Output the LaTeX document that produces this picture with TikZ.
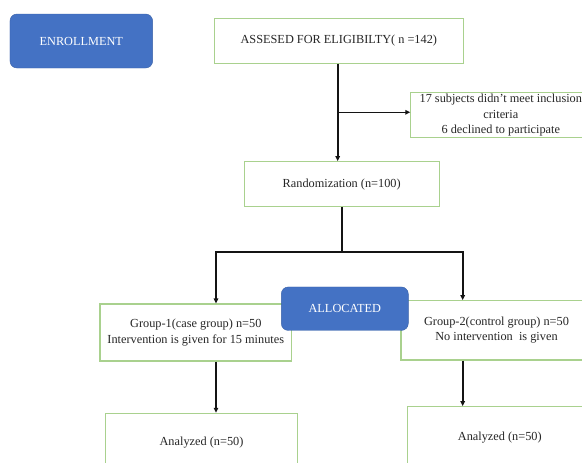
\documentclass[tikz,border=0pt]{standalone}
\usepackage{fontspec}
\setmainfont{Liberation Serif}
\usetikzlibrary{positioning,arrows.meta}

\definecolor{boxgreen}{HTML}{A9D18E}
\definecolor{boxblue}{HTML}{4472C4}
\definecolor{linegray}{HTML}{141414}

\tikzset{
	box/.style={draw=boxgreen, line width=1.1pt, fill=white, align=center, inner sep=0pt},
	stagebox/.style={fill=boxblue, draw=boxblue!85!black, line width=0.4pt, rounded corners=7pt, text=white, inner sep=0pt},
	arr/.style={-{Triangle[length=5pt,width=4.5pt]}, line width=1.6pt, draw=linegray},
	ln/.style={line width=1.6pt, draw=linegray}
}

\begin{document}
\begin{tikzpicture}[x=1pt, y=-1pt, font=\fontsize{12.3}{15.5}\selectfont, text=black!85]
%
\useasboundingbox (0,0) rectangle (582,463);
\clip (0,0) rectangle (582,463);

%Knoten
\node [stagebox, minimum width=142.7pt, minimum height=54pt] (enroll) at (81.3,41) {ENROLLMENT};

\node [box, minimum width=249pt, minimum height=45pt] (assess) at (338.8,40.8) {ASSESED FOR ELIGIBILTY( n =142)};
\node [box, minimum width=180pt, minimum height=45pt] (excl) at (500.8,115.3)
	{17 subjects didn't meet inclusion\\criteria\\6 declined to participate};
\node [box, minimum width=194.7pt, minimum height=45pt] (rand) at (341.7,184.2) {Randomization (n=100)};

\node [box, minimum width=191.7pt, minimum height=57pt] (group1) at (195.8,332.5)
	{Group-1(case group) n=50\\Intervention is given for 15 minutes};
\node [box, minimum width=191pt, minimum height=59.3pt] (group2) at (496.5,330.3)
	{Group-2(control group) n=50\\No intervention \ is given};
\node [stagebox, minimum width=127pt, minimum height=43.5pt] (alloc) at (344.8,308.7) {ALLOCATED};

\node [box, minimum width=191.6pt, minimum height=58pt] (anal1) at (201.5,442.3) {Analyzed (n=50)};
\node [box, minimum width=184pt, minimum height=62pt] (anal2) at (499.8,437.7) {Analyzed (n=50)};

%Verzweigungen
\coordinate (branch) at (337.7,112.3);
\coordinate (split) at (341.7,252);
\coordinate (splitL) at (216,252);
\coordinate (splitR) at (462.7,252);

%Pfeile
\draw [arr] (assess.south -| branch) -- (branch |- rand.north);
\draw [arr] (branch) -- (branch -| excl.west);

\draw [ln] (rand.south) -- (split);
\foreach \s/\g/\a in {splitL/group1/anal1, splitR/group2/anal2}{
	\draw [arr] (split) -- (\s) -- (\s |- \g.north);
	\draw [arr] (\s |- \g.south) -- (\s |- \a.north);
}

\end{tikzpicture}
\end{document}
